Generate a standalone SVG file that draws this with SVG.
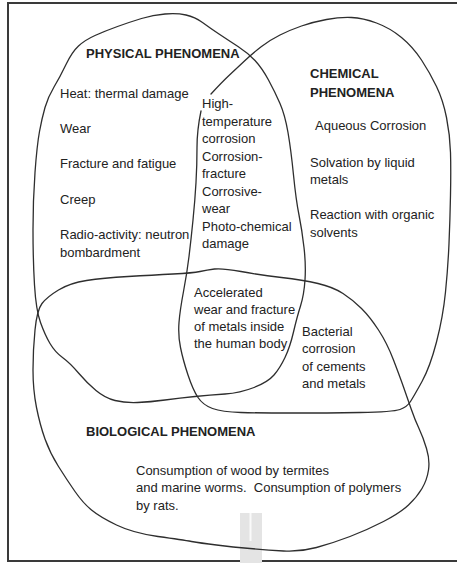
<svg xmlns="http://www.w3.org/2000/svg" width="457" height="563" viewBox="0 0 457 563">
<style>
.bg{fill:#ffffff}
.frame{fill:none;stroke:#3a3a3a;stroke-width:2}
.blob{fill:none;stroke:#2e2e2e;stroke-width:1.3;stroke-linejoin:round;stroke-linecap:round}
text{font-family:"Liberation Sans",Arial,sans-serif;font-size:13px;fill:#222}
.hd{font-weight:bold}
</style>
<rect class="bg" x="0" y="0" width="457" height="563"/>
<rect class="frame" x="8" y="3" width="460" height="558"/>
<g id="mark">
<rect x="240" y="513" width="22" height="50" fill="#e4e4e4"/>
<rect x="249.5" y="513" width="2" height="28" fill="#fafafa"/>
</g>
<g id="connectors">
<path id="physical-outline" class="blob" d="M165,14 Q177,13 186,15 Q195,17 202.5,22.5 Q210,28 219,34 Q228,40 238,46.5 Q248,53 255,60.5 Q262,68 268.5,80 Q275,92 280,103.5 Q285,115 288,132.5 Q291,150 293.5,175 Q296,200 299,215 Q302,230 304,247.5 Q306,265 305,280 Q304,295 300.5,306 Q297,317 293.5,332 Q290,347 285,357.5 Q280,368 274,375 Q268,382 254,387.5 Q240,393 225,394 Q210,395 195,396.5 Q180,398 165,400 Q150,402 137.5,402.5 Q125,403 115,400.5 Q105,398 96,390.5 Q87,383 78.5,373 Q70,363 62.5,357.5 Q55,352 50,343.5 Q45,335 40.5,322.5 Q36,310 34.5,285 Q33,260 33,230 Q33,200 35,172.5 Q37,145 39.5,131.5 Q42,118 45,107.5 Q48,97 54,87 Q60,77 66,64.5 Q72,52 78.5,46 Q85,40 95,35.5 Q105,31 117.5,26.5 Q130,22 141.5,18.5 Q153,15 165,14 Z"/>
<path id="chemical-outline" class="blob" d="M201,111 Q197,130 197,147.5 Q197,165 196,182.5 Q195,200 193,220 Q191,240 189,256.5 Q187,273 183.5,291.5 Q180,310 179,322.5 Q178,335 180.5,347.5 Q183,360 188,375 Q193,390 198,397.5 Q203,405 212.5,408.5 Q222,412 241,412.5 Q260,413 293.5,413 Q327,413 360,412.5 Q393,412 400,409.5 Q407,407 410.5,401.5 Q414,396 422,381.5 Q430,367 436.5,342 Q443,317 445.5,292 Q448,267 449,243.5 Q450,220 450.5,195 Q451,170 450.5,152.5 Q450,135 446.5,117.5 Q443,100 436.5,86.5 Q430,73 421.5,60 Q413,47 401.5,37.5 Q390,28 376.5,23 Q363,18 351.5,17.5 Q340,17 326.5,19.5 Q313,22 301.5,26 Q290,30 280,35 Q270,40 261.5,46.5 Q253,53 245,60.5 Q237,68 229.5,75 Q222,82 211,94"/>
<path id="biological-outline" class="blob" d="M35,330 Q37,310 42,303.5 Q47,297 58.5,290 Q70,283 86.5,280.5 Q103,278 128,276.5 Q153,275 173,274 Q193,273 200,271.5 Q207,270 214.5,269 Q222,268 241,271.5 Q260,275 281.5,277.5 Q303,280 318,283.5 Q333,287 343,293.5 Q353,300 361.5,308.5 Q370,317 378.5,330 Q387,343 393.5,360 Q400,377 403.5,387 Q407,397 411,408.5 Q415,420 419,428.5 Q423,437 426.5,448.5 Q430,460 428.5,470 Q427,480 422,488.5 Q417,497 408.5,505 Q400,513 383.5,521.5 Q367,530 350,536.5 Q333,543 316.5,547.5 Q300,552 283.5,551 Q267,550 250,548.5 Q233,547 216.5,545 Q200,543 191.5,541.5 Q183,540 158,536.5 Q133,533 116.5,525 Q100,517 91.5,510 Q83,503 75,491.5 Q67,480 58.5,466.5 Q50,453 45,439 Q40,425 36.5,407.5 Q33,390 33,370 Q33,350 35,330 Z"/>
</g>
<g id="physical">
<text class="hd" x="86" y="58">PHYSICAL PHENOMENA</text>
<text x="60" y="98">Heat: thermal damage</text>
<text x="60" y="133">Wear</text>
<text x="60" y="168">Fracture and fatigue</text>
<text x="60" y="204">Creep</text>
<text x="60" y="239">Radio-activity: neutron</text>
<text x="60" y="257">bombardment</text>
</g>
<g id="physical-chemical">
<text x="202" y="108">High-</text>
<text x="202" y="125.5">temperature</text>
<text x="202" y="143">corrosion</text>
<text x="202" y="160.5">Corrosion-</text>
<text x="202" y="178">fracture</text>
<text x="202" y="195.5">Corrosive-</text>
<text x="202" y="213">wear</text>
<text x="202" y="230.5">Photo-chemical</text>
<text x="202" y="248">damage</text>
</g>
<g id="chemical">
<text class="hd" x="310" y="78">CHEMICAL</text>
<text class="hd" x="310" y="97">PHENOMENA</text>
<text x="315" y="130">Aqueous Corrosion</text>
<text x="310" y="167">Solvation by liquid</text>
<text x="310" y="184">metals</text>
<text x="310" y="219">Reaction with organic</text>
<text x="310" y="237">solvents</text>
</g>
<g id="all-three">
<text x="194" y="297">Accelerated</text>
<text x="194" y="314">wear and fracture</text>
<text x="194" y="331">of metals inside</text>
<text x="194" y="348">the human body</text>
</g>
<g id="chemical-biological">
<text x="302" y="336">Bacterial</text>
<text x="302" y="353">corrosion</text>
<text x="302" y="370.5">of cements</text>
<text x="302" y="388">and metals</text>
</g>
<g id="biological">
<text class="hd" x="86" y="436">BIOLOGICAL PHENOMENA</text>
<text x="136" y="475">Consumption of wood by termites</text>
<text x="136" y="492" xml:space="preserve">and marine worms.  Consumption of polymers</text>
<text x="136" y="510">by rats.</text>
</g>
</svg>
